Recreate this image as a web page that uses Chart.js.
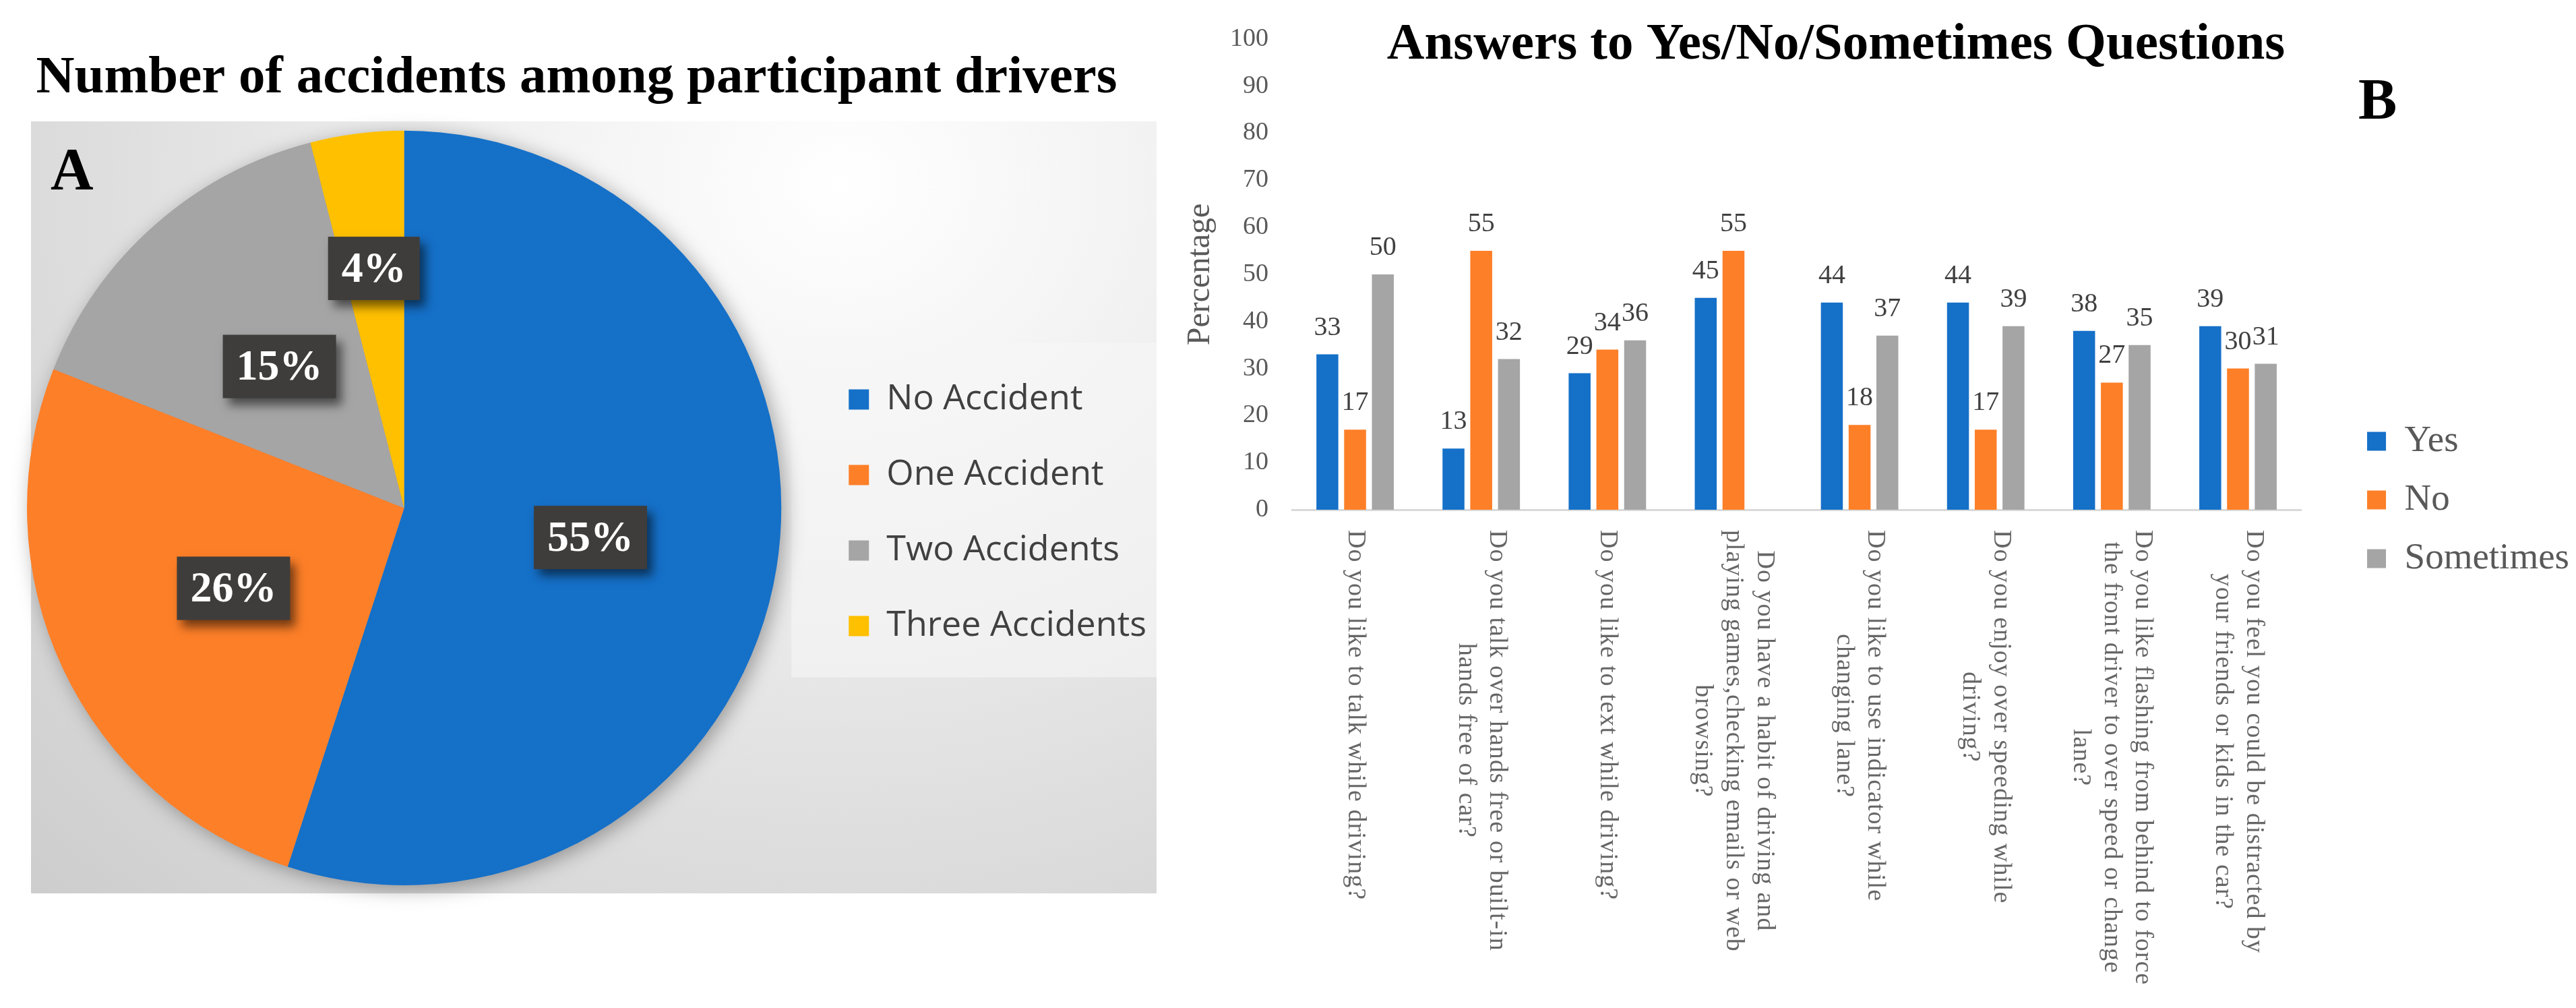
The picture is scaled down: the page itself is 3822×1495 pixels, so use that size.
<!DOCTYPE html>
<html>
<head>
<meta charset="utf-8">
<script src="https://cdn.jsdelivr.net/npm/chart.js@4.4.1/dist/chart.umd.min.js"></script>
<style>
  body { margin: 0; background: #fff; width: 3822px; height: 1495px; overflow: hidden; position: relative; }
  .panel {
    position: absolute; left: 46px; top: 180px; width: 1670px; height: 1145px;
    background: radial-gradient(ellipse at 72% 8%, #ffffff 0%, #f1f1f1 30%, #dedede 65%, #cdcdcd 100%);
  }
  .wrapA { position: absolute; left: 0; top: 0; }
  .wrapB { position: absolute; left: 1744px; top: 0; }
</style>
</head>
<body>
<div class="panel"></div>
<div class="wrapA"><canvas id="pie" width="1744" height="1495"></canvas></div>
<div class="wrapB"><canvas id="bars" width="2078" height="1495"></canvas></div>
<script>
// panel A
const accidentLabels = ["No Accident", "One Accident", "Two Accidents", "Three Accidents"];
const accidentShares = [55, 26, 15, 4];
const accidentColors = ["#1570c8", "#fd7f28", "#a5a5a5", "#ffc000"];

// panel B
const questions = [
  ["Do you like to talk while driving?"],
  ["Do you talk over hands free or built-in", "hands free of car?"],
  ["Do you like to text while driving?"],
  ["Do you have a habit of driving and", "playing games,checking emails or web", "browsing?"],
  ["Do you like to use indicator while", "changing lane?"],
  ["Do you enjoy over speeding while", "driving?"],
  ["Do you like flashing from behind to force", "the front driver to over speed or change", "lane?"],
  ["Do you feel you could be distracted by", "your friends or kids in the car?"],
];
const yesValues = [33, 13, 29, 45, 44, 44, 38, 39];
const noValues = [17, 55, 34, 55, 18, 17, 27, 30];
const sometimesValues = [50, 32, 36, null, 37, 39, 35, 31];

const serif = "'Liberation Serif', 'Times New Roman', serif";

const panelLetter = {
  id: "panelLetter",
  afterDraw(chart, args, opts) {
    const ctx = chart.ctx;
    ctx.save();
    ctx.fillStyle = "#000";
    ctx.font = `bold ${opts.size}px ${serif}`;
    ctx.textAlign = "left";
    ctx.textBaseline = "alphabetic";
    ctx.fillText(opts.text, opts.x, opts.y);
    ctx.restore();
  },
};

const pieDecor = {
  id: "pieDecor",
  beforeDraw(chart) {
    const ctx = chart.ctx;
    const lg = chart.legend;
    const hb = lg.legendHitBoxes;
    const top = hb[0].top - 58;
    const last = hb[hb.length - 1];
    const bottom = last.top + last.height + 50;
    ctx.save();
    ctx.fillStyle = "rgba(246,246,246,0.6)";
    ctx.fillRect(lg.left - 25, top, lg.right + 5 - (lg.left - 25), bottom - top);
    ctx.restore();
  },
  beforeDatasetsDraw(chart) {
    const ctx = chart.ctx;
    const a = chart.getDatasetMeta(0).data[0];
    ctx.save();
    ctx.shadowColor = "rgba(0,0,0,0.35)";
    ctx.shadowBlur = 30;
    ctx.shadowOffsetX = 6;
    ctx.shadowOffsetY = 6;
    ctx.beginPath();
    ctx.arc(a.x, a.y, a.outerRadius - 1, 0, Math.PI * 2);
    ctx.fillStyle = "#999";
    ctx.fill();
    ctx.restore();
  },
  afterDatasetsDraw(chart) {
    const ctx = chart.ctx;
    const ds = chart.data.datasets[0];
    ctx.save();
    ctx.font = `bold 64px ${serif}`;
    ctx.textAlign = "center";
    ctx.textBaseline = "middle";
    chart.getDatasetMeta(0).data.forEach((arc, i) => {
      const mid = (arc.startAngle + arc.endAngle) / 2;
      const frac = ds.data[i] < 6 ? 0.64 : 0.5;
      const cx = arc.x + Math.cos(mid) * arc.outerRadius * frac;
      const cy = arc.y + Math.sin(mid) * arc.outerRadius * frac;
      const txt = ds.data[i] + "%";
      const w = ctx.measureText(txt).width + 40;
      const h = 94;
      ctx.save();
      ctx.shadowColor = "rgba(0,0,0,0.55)";
      ctx.shadowBlur = 14;
      ctx.shadowOffsetX = 8;
      ctx.shadowOffsetY = 10;
      ctx.fillStyle = "#3f3d3b";
      ctx.fillRect(cx - w / 2, cy - h / 2, w, h);
      ctx.restore();
      ctx.fillStyle = "#fff";
      ctx.fillText(txt, cx, cy + 3);
    });
    ctx.restore();
  },
};

new Chart(document.getElementById("pie"), {
  type: "pie",
  data: {
    labels: accidentLabels,
    datasets: [{ data: accidentShares, backgroundColor: accidentColors, borderWidth: 0 }],
  },
  options: {
    responsive: false,
    animation: false,
    layout: { padding: { left: 0, right: 33, top: 0, bottom: 182 } },
    plugins: {
      title: {
        display: true,
        text: "Number of accidents among participant drivers",
        color: "#000",
        font: { family: serif, size: 79, weight: "bold" },
        padding: { top: 69, bottom: 30 },
      },
      legend: {
        position: "right",
        align: "center",
        fullSize: false,
        // empty title only nudges the items down a little
        title: { display: true, text: " ", padding: 1, font: { size: 10 } },
        labels: {
          boxWidth: 30,
          boxHeight: 30,
          padding: 60,
          color: "#404040",
          font: { family: "'Open Sans', sans-serif", size: 52 },
        },
      },
      tooltip: { enabled: false },
      panelLetter: { text: "A", x: 75, y: 280, size: 88 },
    },
  },
  plugins: [pieDecor, panelLetter],
});

const barTitle = {
  id: "barTitle",
  afterDraw(chart) {
    const ctx = chart.ctx;
    ctx.save();
    ctx.fillStyle = "#000";
    ctx.font = `bold 77px ${serif}`;
    ctx.textAlign = "center";
    ctx.textBaseline = "alphabetic";
    ctx.fillText("Answers to Yes/No/Sometimes Questions", 980, 87);
    ctx.restore();
  },
};

const valueLabels = {
  id: "valueLabels",
  afterDatasetsDraw(chart) {
    const ctx = chart.ctx;
    ctx.save();
    ctx.font = `40px ${serif}`;
    ctx.fillStyle = "#404040";
    ctx.textAlign = "center";
    ctx.textBaseline = "alphabetic";
    chart.data.datasets.forEach((ds, i) => {
      chart.getDatasetMeta(i).data.forEach((bar, j) => {
        const v = ds.data[j];
        if (v == null) return;
        ctx.fillText(v, bar.x, bar.y - 29);
      });
    });
    ctx.restore();
  },
};

// category labels read top to bottom, so they are drawn here
const questionLabels = {
  id: "questionLabels",
  afterDraw(chart) {
    const ctx = chart.ctx;
    const xs = chart.scales.x;
    ctx.save();
    ctx.font = `38px ${serif}`;
    ctx.letterSpacing = "1px";
    ctx.fillStyle = "#666";
    ctx.textAlign = "center";
    ctx.textBaseline = "middle";
    chart.data.labels.forEach((lines, i) => {
      const x = xs.getPixelForTick(i);
      const widest = Math.max(...lines.map((l) => ctx.measureText(l).width));
      ctx.save();
      ctx.translate(x, xs.top + 30);
      ctx.rotate(Math.PI / 2);
      lines.forEach((l, j) => {
        ctx.fillText(l, widest / 2, (j - (lines.length - 1) / 2) * 46);
      });
      ctx.restore();
    });
    ctx.restore();
  },
};

new Chart(document.getElementById("bars"), {
  type: "bar",
  data: {
    labels: questions,
    datasets: [
      { label: "Yes", data: yesValues, backgroundColor: "#1570c8" },
      { label: "No", data: noValues, backgroundColor: "#fd7f28" },
      { label: "Sometimes", data: sometimesValues, backgroundColor: "#a5a5a5" },
    ],
  },
  options: {
    responsive: false,
    animation: false,
    categoryPercentage: 0.66,
    barPercentage: 0.79,
    layout: { padding: { left: 5, right: 0, top: 48, bottom: 60 } },
    plugins: {
      legend: {
        position: "right",
        align: "center",
        labels: {
          boxWidth: 28,
          boxHeight: 28,
          padding: 32,
          color: "#595959",
          font: { family: serif, size: 55 },
        },
      },
      tooltip: { enabled: false },
      panelLetter: { text: "B", x: 1755, y: 176, size: 86 },
    },
    scales: {
      x: {
        grid: { display: false, drawTicks: false },
        border: { color: "#d9d9d9", width: 3 },
        ticks: { display: false },
        afterFit: (s) => { s.height = 679; },
      },
      y: {
        min: 0,
        max: 100,
        ticks: { stepSize: 10, padding: 35, color: "#595959", font: { family: serif, size: 38 } },
        grid: { display: false, drawTicks: false },
        border: { display: false },
        title: {
          display: true,
          text: "Percentage",
          color: "#595959",
          font: { family: serif, size: 48 },
          padding: { top: 4, bottom: 14 },
        },
        afterFit: (s) => { s.width = 168; },
      },
      gap: {
        type: "linear",
        position: "right",
        grid: { display: false, drawTicks: false },
        border: { display: false },
        ticks: { display: false },
        afterFit: (s) => { s.width = 66; },
      },
    },
  },
  plugins: [valueLabels, questionLabels, barTitle, panelLetter],
});
</script>
</body>
</html>
